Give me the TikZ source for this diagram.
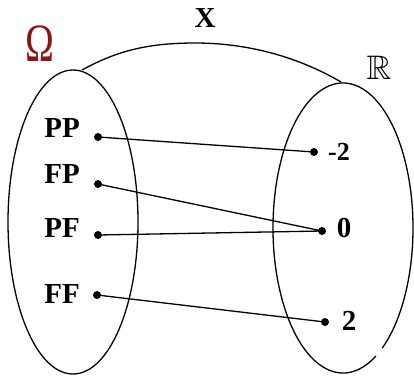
\documentclass[tikz,border=0pt]{standalone}
\usepackage{amssymb}
\usepackage{fontspec}
\setmainfont{Liberation Serif}
\definecolor{omegared}{RGB}{140,20,20}
\begin{document}
\begin{tikzpicture}[x=1pt,y=-1pt,
  curve/.style={line width=1.3pt},
  lbl/.style={font=\fontsize{29}{32}\selectfont\bfseries, inner sep=0pt},
  num/.style={font=\fontsize{29}{32}\selectfont\bfseries, inner sep=0pt},
  dotpt/.style={circle, fill, inner sep=0pt, minimum size=8pt},
  link/.style={line width=1.3pt}]
\useasboundingbox (0,0) rectangle (414,378);
% sets
\draw[curve] (73,222) ellipse [x radius=65, y radius=152];
\draw[curve] (343,228) ++(62:70 and 145) arc [start angle=62, end angle=416, x radius=70, y radius=145];
% map curve
\coordinate (xs) at (82,70);
\coordinate (xe) at (341,82);
\draw[curve] (xs) .. controls (115,52) and (145,43) .. (195,43) .. controls (250,43) and (300,58) .. (xe);
% titles
\node[lbl] (X) at (205,18) {X};
\node[inner sep=0pt, text=omegared, font=\fontsize{54}{60}\selectfont] (omega) at (40,44) {\scalebox{0.72}[1]{Ω}};
\node[inner sep=0pt, font=\fontsize{34}{40}\selectfont] (R) at (379,68) {$\mathbb{R}$};
% elements
\node[lbl] (PP) at (62,128) {PP};
\node[lbl] (FP) at (62,174) {FP};
\node[lbl] (PF) at (62,228) {PF};
\node[lbl] (FF) at (62,294) {FF};
\node[inner sep=0pt, font=\fontsize{26}{30}\selectfont\bfseries] (m2) at (339,152) {-2};
\node[num] (z) at (344,228) {0};
\node[num] (t) at (349,321) {2};
% points
\node[dotpt] (pPP) at (98,137) {};
\node[dotpt] (pFP) at (98,184) {};
\node[dotpt] (pPF) at (98,235) {};
\node[dotpt] (pFF) at (97,295) {};
\node[dotpt] (pm2) at (314,152) {};
\node[dotpt] (pz) at (322,231) {};
\node[dotpt] (pt) at (325,322) {};
% links
\draw[link] (pPP.center) -- (pm2.center);
\draw[link] (pFP.center) -- (pz.center);
\draw[link] (pPF.center) -- (pz.center);
\draw[link] (pFF.center) -- (pt.center);
\end{tikzpicture}
\end{document}
